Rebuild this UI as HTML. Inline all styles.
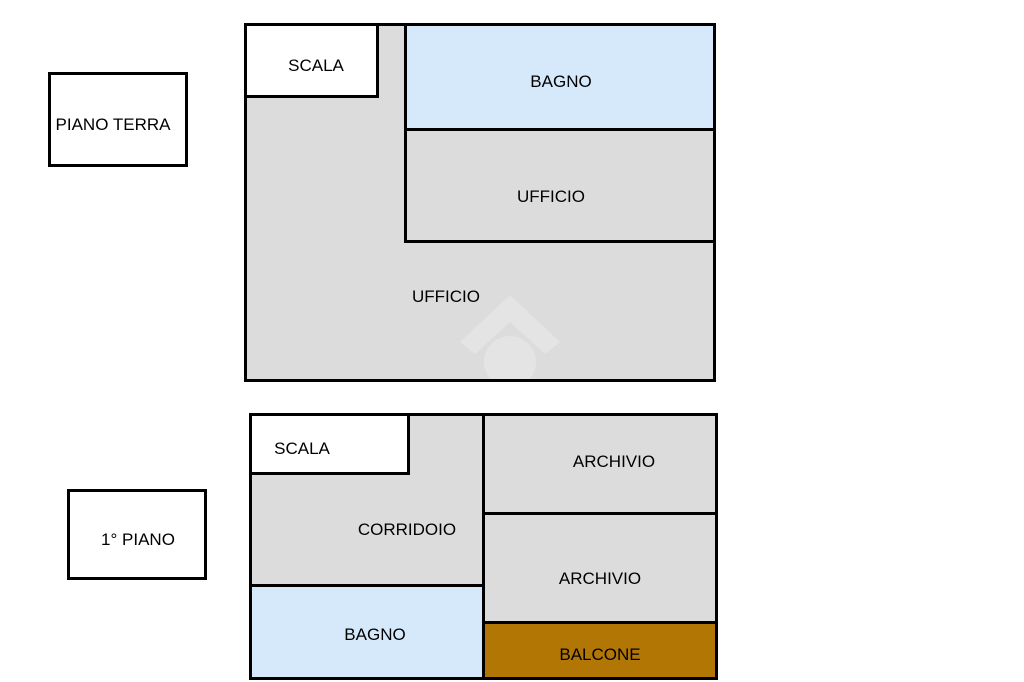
<!DOCTYPE html>
<html><head><meta charset="utf-8"><style>
body{margin:0;width:1024px;height:682px;background:#fff;position:relative;overflow:hidden;font-family:"Liberation Sans",sans-serif;font-size:17px;color:#000}
.b{position:absolute;box-sizing:border-box;border:3px solid #000}
.t{position:absolute;transform:translate(-50%,-50%);white-space:nowrap}
</style></head><body>
<!-- ground floor -->
<div class="b" style="left:244px;top:23px;width:472px;height:359px;background:#dcdcdc"></div>
<svg style="position:absolute;left:460px;top:292px" width="105" height="87"><polygon points="0,50 50,3 100,50 85,62 50,30 15,62" fill="#e4e4e4"/><circle cx="50" cy="70" r="26" fill="#e4e4e4"/></svg>
<div class="b" style="left:244px;top:23px;width:135px;height:75px;background:#fff"></div>
<div class="b" style="left:404px;top:23px;width:312px;height:108px;background:#d5e9fb"></div>
<div class="b" style="left:404px;top:128px;width:312px;height:115px;background:#dcdcdc"></div>
<div class="t" style="left:316px;top:66px">SCALA</div>
<div class="t" style="left:561px;top:82px">BAGNO</div>
<div class="t" style="left:551px;top:197px">UFFICIO</div>
<div class="t" style="left:446px;top:297px">UFFICIO</div>
<div class="b" style="left:48px;top:72px;width:140px;height:95px;background:#fff"></div>
<div class="t" style="left:113px;top:125px">PIANO TERRA</div>
<!-- first floor -->
<div class="b" style="left:249px;top:413px;width:469px;height:267px;background:#dcdcdc"></div>
<div class="b" style="left:249px;top:413px;width:161px;height:62px;background:#fff"></div>
<div class="b" style="left:249px;top:584px;width:237px;height:96px;background:#d5e9fb"></div>
<div class="b" style="left:482px;top:413px;width:236px;height:102px;background:#dcdcdc"></div>
<div class="b" style="left:482px;top:512px;width:236px;height:113px;background:#dcdcdc"></div>
<div class="b" style="left:482px;top:621px;width:236px;height:59px;background:#b27605"></div>
<div class="t" style="left:302px;top:449px">SCALA</div>
<div class="t" style="left:407px;top:530px">CORRIDOIO</div>
<div class="t" style="left:375px;top:635px">BAGNO</div>
<div class="t" style="left:614px;top:462px">ARCHIVIO</div>
<div class="t" style="left:600px;top:579px">ARCHIVIO</div>
<div class="t" style="left:600px;top:655px">BALCONE</div>
<div class="b" style="left:67px;top:489px;width:140px;height:91px;background:#fff"></div>
<div class="t" style="left:138px;top:540px">1° PIANO</div>
</body></html>
